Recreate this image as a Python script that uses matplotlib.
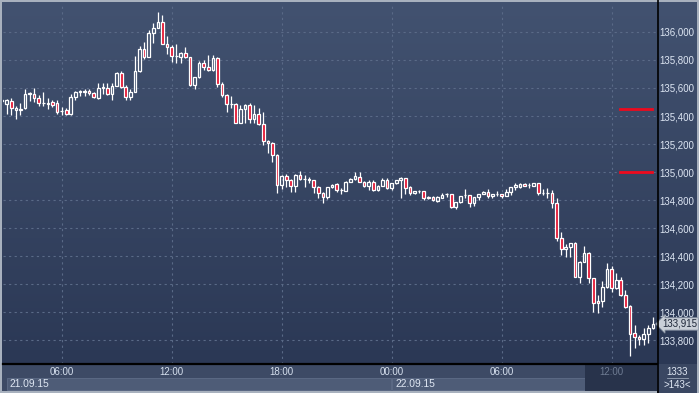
import numpy as np
import pandas as pd
import matplotlib
matplotlib.use("Agg")
import matplotlib.pyplot as plt
import matplotlib.transforms as mtransforms
from matplotlib.patches import Rectangle
from matplotlib.lines import Line2D

# 15 minute candles, 21.09.15 02:45 .. 22.09.15 14:15
opens = [135.504, 135.486, 135.509, 135.443, 135.450, 135.457, 135.557, 135.557, 135.529, 135.493,
         135.493, 135.500, 135.493, 135.436, 135.443, 135.412, 135.536, 135.571, 135.571, 135.579,
         135.564, 135.529, 135.600, 135.600, 135.555, 135.616, 135.707, 135.604, 135.538, 135.571,
         135.718, 135.876, 135.819, 135.995, 136.026, 136.069, 135.914, 135.895, 135.829, 135.824,
         135.848, 135.819, 135.618, 135.675, 135.776, 135.752, 135.725, 135.812, 135.626, 135.550,
         135.486, 135.486, 135.352, 135.448, 135.479, 135.377, 135.414, 135.341, 135.221, 135.209,
         135.121, 134.907, 134.971, 134.943, 134.900, 134.976, 134.948, 134.948, 134.943, 134.893,
         134.848, 134.819, 134.891, 134.912, 134.871, 134.864, 134.931, 134.950, 134.967, 134.931,
         134.902, 134.926, 134.871, 134.902, 134.943, 134.888, 134.919, 134.943, 134.955, 134.895,
         134.848, 134.866, 134.864, 134.824, 134.824, 134.793, 134.812, 134.843, 134.843, 134.748,
         134.784, 134.836, 134.836, 134.776, 134.819, 134.843, 134.859, 134.829, 134.843, 134.843,
         134.829, 134.859, 134.891, 134.891, 134.914, 134.907, 134.900, 134.919, 134.852, 134.852,
         134.852, 134.776, 134.526, 134.448, 134.466, 134.491, 134.252, 134.359, 134.424, 134.241,
         134.081, 134.081, 134.176, 134.305, 134.169, 134.229, 134.121, 134.043, 133.848, 133.824,
         133.805, 133.843, 133.886]
highs = [135.518, 135.521, 135.529, 135.471, 135.493, 135.593, 135.571, 135.600, 135.550, 135.571,
         135.529, 135.514, 135.514, 135.464, 135.457, 135.557, 135.579, 135.586, 135.593, 135.593,
         135.571, 135.638, 135.636, 135.636, 135.636, 135.714, 135.721, 135.621, 135.593, 135.829,
         135.900, 135.929, 136.014, 136.062, 136.141, 136.121, 135.971, 135.907, 135.914, 135.857,
         135.891, 135.821, 135.679, 135.795, 135.800, 135.836, 135.836, 135.821, 135.643, 135.554,
         135.543, 135.493, 135.479, 135.486, 135.491, 135.479, 135.455, 135.426, 135.229, 135.214,
         135.129, 134.979, 134.986, 134.950, 134.986, 135.009, 134.979, 134.962, 134.946, 134.900,
         134.857, 134.893, 134.914, 134.921, 134.888, 134.936, 134.957, 135.002, 135.002, 134.936,
         134.943, 134.943, 134.907, 134.955, 134.955, 134.921, 134.946, 134.961, 134.957, 134.900,
         134.868, 134.871, 134.868, 134.829, 134.826, 134.829, 134.850, 134.852, 134.845, 134.786,
         134.832, 134.876, 134.839, 134.821, 134.846, 134.862, 134.876, 134.846, 134.866, 134.846,
         134.876, 134.893, 134.924, 134.918, 134.918, 134.924, 134.921, 134.921, 134.876, 134.884,
         134.871, 134.812, 134.574, 134.486, 134.493, 134.502, 134.364, 134.471, 134.429, 134.243,
         134.121, 134.224, 134.348, 134.329, 134.276, 134.252, 134.157, 134.050, 133.907, 133.836,
         133.884, 133.904, 133.966]
lows = [135.493, 135.414, 135.407, 135.379, 135.407, 135.450, 135.507, 135.500, 135.471, 135.471,
        135.450, 135.464, 135.414, 135.407, 135.407, 135.407, 135.514, 135.543, 135.543, 135.550,
        135.529, 135.525, 135.557, 135.550, 135.514, 135.614, 135.600, 135.514, 135.514, 135.568,
        135.714, 135.807, 135.818, 135.924, 136.025, 135.911, 135.843, 135.788, 135.779, 135.776,
        135.814, 135.614, 135.593, 135.671, 135.729, 135.721, 135.721, 135.605, 135.538, 135.431,
        135.455, 135.348, 135.350, 135.352, 135.352, 135.352, 135.336, 135.193, 135.134, 135.074,
        134.848, 134.876, 134.891, 134.859, 134.859, 134.943, 134.895, 134.919, 134.848, 134.812,
        134.776, 134.805, 134.889, 134.859, 134.841, 134.861, 134.929, 134.943, 134.929, 134.896,
        134.871, 134.868, 134.868, 134.900, 134.879, 134.871, 134.914, 134.812, 134.841, 134.836,
        134.843, 134.848, 134.800, 134.807, 134.796, 134.789, 134.811, 134.819, 134.746, 134.734,
        134.782, 134.812, 134.748, 134.757, 134.800, 134.841, 134.812, 134.812, 134.829, 134.812,
        134.826, 134.836, 134.871, 134.889, 134.898, 134.884, 134.898, 134.836, 134.836, 134.812,
        134.741, 134.509, 134.407, 134.395, 134.395, 134.248, 134.209, 134.357, 134.209, 134.002,
        133.995, 134.034, 134.171, 134.145, 134.168, 134.118, 134.026, 133.686, 133.741, 133.764,
        133.764, 133.776, 133.882]
closes = [135.511, 135.514, 135.455, 135.457, 135.446, 135.557, 135.561, 135.529, 135.493, 135.496,
          135.486, 135.479, 135.429, 135.439, 135.414, 135.538, 135.571, 135.575, 135.575, 135.564,
          135.536, 135.600, 135.604, 135.557, 135.616, 135.705, 135.604, 135.538, 135.570, 135.718,
          135.876, 135.819, 135.995, 136.026, 136.069, 135.914, 135.895, 135.825, 135.832, 135.848,
          135.819, 135.618, 135.675, 135.776, 135.752, 135.725, 135.812, 135.625, 135.550, 135.486,
          135.484, 135.352, 135.448, 135.479, 135.377, 135.414, 135.341, 135.224, 135.209, 135.121,
          134.907, 134.971, 134.943, 134.900, 134.976, 134.948, 134.950, 134.946, 134.893, 134.848,
          134.819, 134.891, 134.907, 134.871, 134.869, 134.931, 134.950, 134.974, 134.931, 134.902,
          134.926, 134.871, 134.902, 134.943, 134.888, 134.919, 134.943, 134.955, 134.884, 134.848,
          134.864, 134.865, 134.816, 134.812, 134.800, 134.824, 134.836, 134.841, 134.748, 134.784,
          134.829, 134.834, 134.776, 134.819, 134.843, 134.859, 134.829, 134.843, 134.841, 134.829,
          134.859, 134.891, 134.907, 134.914, 134.900, 134.906, 134.919, 134.852, 134.853, 134.853,
          134.776, 134.526, 134.448, 134.466, 134.491, 134.252, 134.359, 134.424, 134.241, 134.062,
          134.062, 134.176, 134.305, 134.169, 134.229, 134.121, 134.038, 133.843, 133.824, 133.805,
          133.843, 133.886, 133.915]
start_time = "2015-09-21 02:45"
levels = [135.45, 135.00]
price_ticks = [133.8, 134.0, 134.2, 134.4, 134.6, 134.8, 135.0, 135.2, 135.4, 135.6, 135.8, 136.0]
info_top = "1333"

W, H = 699, 393
FS = 7.0
times = pd.date_range(start_time, periods=len(closes), freq="15min")
o = np.array(opens); h = np.array(highs); l = np.array(lows); c = np.array(closes)
x = np.arange(len(c))

plt.rcParams["font.family"] = ["Liberation Sans", "DejaVu Sans"]

def fr(px, py, pw, ph):
    # pixel box (from top-left) -> figure fraction
    return [px / W, 1 - (py + ph) / H, pw / W, ph / H]

fig = plt.figure(figsize=(W / 100, H / 100), dpi=100, facecolor="#a8b1be")

# gradient background
bg = fig.add_axes(fr(2, 2, 695, 362))
bg.set_axis_off()
top = np.array([0x42, 0x52, 0x70]) / 255
bot = np.array([0x2b, 0x38, 0x55]) / 255
t = np.linspace(0, 1, 256)[:, None]
grad = top[None, :] * (1 - t) + bot[None, :] * t
bg.imshow(grad[:, None, :], aspect="auto", extent=[0, 1, 0, 1])

# bottom strips (drawn under the axes so tick labels stay on top)
def rect(px, py, pw, ph, fc, ec="none", lw=0):
    fig.patches.append(Rectangle((px / W, 1 - (py + ph) / H), pw / W, ph / H,
                                 transform=fig.transFigure, fc=fc, ec=ec, lw=lw, zorder=-1))

rect(2, 364, 655, 27, "#3d4a65")
rect(7, 378, 384, 12, "#4e5c77", "#5f6d88", 0.6)
rect(392, 378, 193, 12, "#4e5c77", "#5f6d88", 0.6)
rect(585, 364, 72, 27, "#28334b")
rect(657, 364, 40, 29, "#3a4762")

ax = fig.add_axes(fr(3, 3, 654, 361))
ax.set_facecolor("none")
ax.set_xlim(0.2, 142.9)
ax.set_ylim(133.629, 136.207)

# grid
hour_idx = [i for i, tm in enumerate(times) if tm.minute == 0 and tm.hour % 6 == 0]
ax.set_xticks(hour_idx)
ax.set_xticklabels([times[i].strftime("%H:%M") for i in hour_idx])
ax.set_yticks(price_ticks)
ax.set_yticklabels([f"{v:.3f}".replace(".", ",") for v in price_ticks])
ax.grid(True, color="#5a6a87", linestyle=(0, (2, 3)), linewidth=0.8)
ax.set_axisbelow(True)

for s in ["top", "left", "right"]:
    ax.spines[s].set_visible(False)
ax.spines["bottom"].set_color("black")
ax.spines["bottom"].set_linewidth(1.6)

ax.yaxis.tick_right()
ax.tick_params(axis="y", length=0, pad=1.5, labelsize=FS, labelcolor="#dde6f3")
ax.tick_params(axis="x", length=0, pad=2.5, labelsize=FS, labelcolor="#d6e0ee")
ax.get_xticklabels()[-1].set_color("#6e7b92")

# candles
up = c >= o
body_lo = np.minimum(o, c)
body_hi = np.maximum(o, c)
ax.vlines(x, body_hi, h, color="white", lw=0.9, zorder=3)
ax.vlines(x, l, body_lo, color="white", lw=0.9, zorder=3)
ax.bar(x[up], (body_hi - body_lo)[up], bottom=body_lo[up], width=0.58,
       facecolor="none", edgecolor="white", linewidth=0.9, zorder=4)
ax.bar(x[~up], (body_hi - body_lo)[~up], bottom=body_lo[~up], width=0.58,
       facecolor="#e3112e", edgecolor="white", linewidth=0.9, zorder=4)

# alert levels
for lv in levels:
    ax.axhline(lv, xmin=0.943, xmax=0.992, color="#ee0a1e", lw=2, zorder=5)

# last price tag
blend = mtransforms.blended_transform_factory(ax.transAxes, ax.transData)
ax.text(1.008, c[-1], f"{c[-1]:.3f}".replace(".", ","), transform=blend,
        ha="left", va="center", fontsize=FS, color="#1c2537", clip_on=False, zorder=6,
        bbox=dict(boxstyle="larrow,pad=0.12", fc="#c9cfd8", ec="#8f99a8", lw=0.6))

# dividers
fig.lines.append(Line2D([657.5 / W] * 2, [0, 1], transform=fig.transFigure, color="black", lw=1.2))
fig.lines.append(Line2D([667 / W, 688 / W], [1 - 378 / H] * 2, transform=fig.transFigure,
                        color="#9aa6b8", lw=0.6))

# date labels
fig.text(10 / W, 1 - 384 / H, times[0].strftime("%d.%m.%y"), fontsize=FS + 0.4,
         color="#dfe7f3", va="center", ha="left")
day2 = [i for i, tm in enumerate(times) if tm.hour == 0 and tm.minute == 0][0]
bt = mtransforms.blended_transform_factory(ax.transData, fig.transFigure)
fig.text(day2 + 0.75, 1 - 384 / H, times[day2].strftime("%d.%m.%y"), fontsize=FS + 0.4,
         color="#dfe7f3", va="center", ha="left", transform=bt)

fig.text(677 / W, 1 - 372 / H, info_top, fontsize=FS, color="#dfe7f3", ha="center", va="center")
fig.text(677 / W, 1 - 385 / H, f">{len(c)}<", fontsize=FS, color="#dfe7f3", ha="center", va="center")

fig.savefig("out.png", dpi=100, facecolor=fig.get_facecolor())
